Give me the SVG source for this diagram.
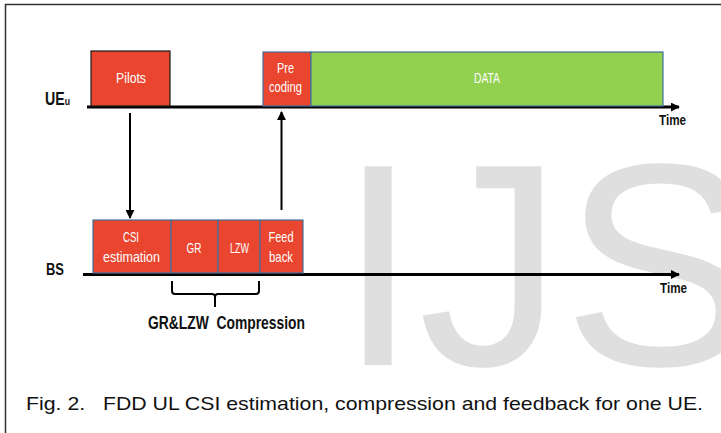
<svg xmlns="http://www.w3.org/2000/svg" width="721" height="433" viewBox="0 0 721 433">
<defs>
<style>
.lbl{font-family:"Liberation Sans Narrow","Liberation Sans",Arial,sans-serif;font-size:15px;fill:#ffffff;text-anchor:middle}
.bold{font-family:"Liberation Sans Narrow","Liberation Sans",Arial,sans-serif;font-weight:bold;fill:#111111}
.red{fill:#E9452F}
.edge{stroke:#41719C;stroke-width:1.2}
.axis{stroke:#000;stroke-width:3;fill:none}
.arr{stroke:#000;stroke-width:2;fill:none}
</style>
<marker id="ah" viewBox="0 0 10 10" refX="9" refY="5" markerWidth="9" markerHeight="9" markerUnits="userSpaceOnUse" orient="auto">
<path d="M0,0 L10,5 L0,10 z" fill="#000"/>
</marker>
</defs>
<rect x="0" y="0" width="721" height="433" fill="#ffffff"/>
<text x="338" y="365" font-family="Liberation Sans,Arial,sans-serif" font-size="289" fill="#dfdfdf">IJS</text>
<path d="M5.5,433 L5.5,4.5 L721,4.5" fill="none" stroke="#333" stroke-width="1.5"/>

<g id="labels">
<text class="bold" x="45" y="105" font-size="18" textLength="25" lengthAdjust="spacingAndGlyphs">UE<tspan font-size="11">u</tspan></text>
<text class="bold" x="46" y="275" font-size="17" textLength="18" lengthAdjust="spacingAndGlyphs">BS</text>
<text class="bold" x="659" y="125" font-size="15" textLength="27" lengthAdjust="spacingAndGlyphs">Time</text>
<text class="bold" x="660" y="293" font-size="15" textLength="27" lengthAdjust="spacingAndGlyphs">Time</text>
<text class="bold" x="148" y="329" font-size="18" textLength="157" lengthAdjust="spacingAndGlyphs" xml:space="preserve">GR&amp;LZW  Compression</text>
</g>

<g id="connectors">
<line class="axis" x1="87" y1="107" x2="679" y2="107" marker-end="url(#ah)"/>
<line class="axis" x1="83" y1="274.5" x2="679" y2="274.5" marker-end="url(#ah)"/>
<line class="arr" x1="130" y1="113" x2="130" y2="218" marker-end="url(#ah)"/>
<line class="arr" x1="281.5" y1="210" x2="281.5" y2="112" marker-end="url(#ah)"/>
<path class="arr" d="M172,281 L172,291 Q172,294 175,294 L212,294 Q215,294 215,297 L215,307 M215,297 Q215,294 218,294 L256,294 Q259,294 259,291 L259,281"/>
</g>

<g id="pilots">
<rect class="red" x="91" y="51" width="79" height="55" stroke="#1a1a1a" stroke-width="1.2"/>
<text class="lbl" x="131" y="83" textLength="30" lengthAdjust="spacingAndGlyphs">Pilots</text>
</g>
<g id="precoding">
<rect class="red edge" x="263" y="52" width="48" height="54"/>
<text class="lbl" x="285.5" y="73" textLength="17" lengthAdjust="spacingAndGlyphs">Pre</text>
<text class="lbl" x="285.5" y="92" textLength="33" lengthAdjust="spacingAndGlyphs">coding</text>
</g>
<g id="data">
<rect class="edge" x="311" y="52" width="352" height="54" fill="#92D050"/>
<text class="lbl" x="487" y="83" textLength="26" lengthAdjust="spacingAndGlyphs">DATA</text>
</g>
<g id="csi">
<rect class="red edge" x="93" y="220" width="78" height="53"/>
<text class="lbl" x="131" y="242" textLength="16" lengthAdjust="spacingAndGlyphs">CSI</text>
<text class="lbl" x="131.5" y="262" textLength="57" lengthAdjust="spacingAndGlyphs">estimation</text>
</g>
<g id="gr">
<rect class="red edge" x="171" y="220" width="47" height="53"/>
<text class="lbl" x="194" y="253" textLength="15" lengthAdjust="spacingAndGlyphs">GR</text>
</g>
<g id="lzw">
<rect class="red edge" x="218" y="220" width="42" height="53"/>
<text class="lbl" x="239.5" y="253" textLength="19" lengthAdjust="spacingAndGlyphs">LZW</text>
</g>
<g id="feedback">
<rect class="red edge" x="260" y="220" width="43" height="53"/>
<text class="lbl" x="281" y="242" textLength="25" lengthAdjust="spacingAndGlyphs">Feed</text>
<text class="lbl" x="281" y="262" textLength="24" lengthAdjust="spacingAndGlyphs">back</text>
</g>

<g id="caption">
<text x="26" y="410" font-family="Liberation Sans,Arial,sans-serif" font-size="19" fill="#111" textLength="677" lengthAdjust="spacingAndGlyphs" xml:space="preserve">Fig. 2.   FDD UL CSI estimation, compression and feedback for one UE.</text>
</g>
</svg>
